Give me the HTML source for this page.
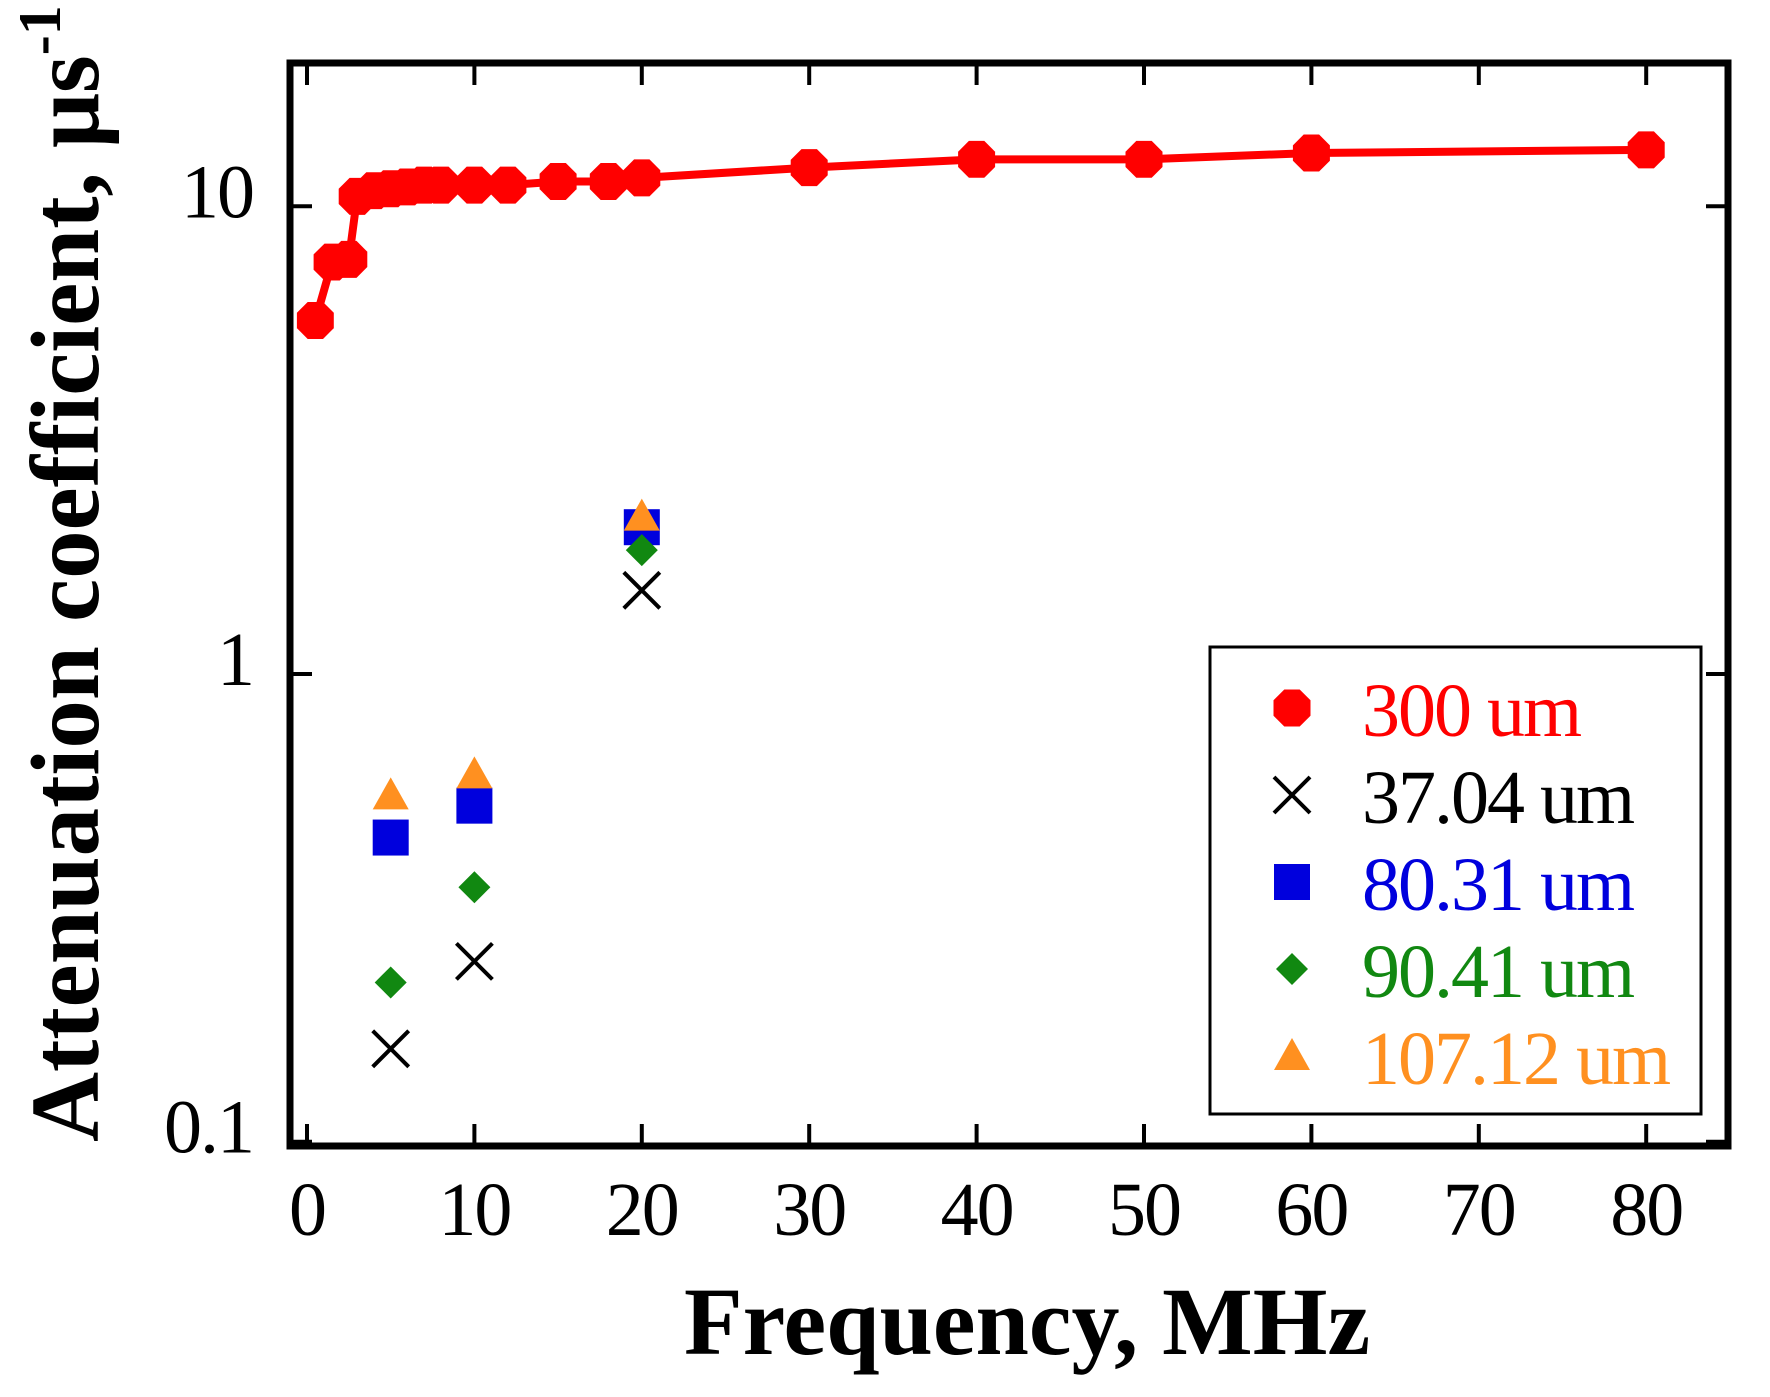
<!DOCTYPE html>
<html><head><meta charset="utf-8"><style>
html,body{margin:0;padding:0;background:#fff;}
svg{display:block;}
text{font-family:"Liberation Serif",serif;}
</style></head><body>
<svg id="chart" width="1770" height="1397" viewBox="0 0 1770 1397" xmlns="http://www.w3.org/2000/svg">
<g id="marks"></g>
<rect x="290" y="63" width="1438" height="1083" fill="none" stroke="#000" stroke-width="7"/>
<g id="ticks"></g>
<text x="1027" y="1354" font-size="96" font-weight="bold" text-anchor="middle">Frequency, MHz</text>
<text transform="translate(98,1142) rotate(-90)" font-size="97" font-weight="bold">Attenuation coefficient, μs<tspan font-size="60" dy="-38">-1</tspan></text>
<g>
<rect x="1210" y="647" width="491" height="467" fill="#fff" stroke="#000" stroke-width="3"/>
<g id="legend-entries"></g>
</g>
</svg>
<script>
const redX = [0.5,1.5,2.5,3,4,5,6,7,8,10,12,15,18,20,30,40,50,60,80];
const redY = [5.7,7.6,7.7,10.5,10.8,10.9,11,11.1,11.1,11.1,11.1,11.3,11.3,11.5,12.1,12.6,12.6,13.0,13.2];
const sampleX = [5,10,20];
const blackY = [0.158,0.243,1.51];
const blueY = [0.447,0.523,2.06];
const greenY = [0.219,0.35,1.84];
const orangeY = [0.55,0.61,2.17];
const xTicks = [0,10,20,30,40,50,60,70,80];
const yTicks = [0.1,1,10];
const yTickLabels = ["0.1","1","10"];
const legendLabels = ["300 um","37.04 um","80.31 um","90.41 um","107.12 um"];

const NS = "http://www.w3.org/2000/svg";
function xs(v){ return 307 + v*16.74; }
function ys(v){ return 674 - Math.log10(v)*467.7; }
function mk(tag, attrs, parent){
  const e = document.createElementNS(NS, tag);
  for (const k in attrs) e.setAttribute(k, attrs[k]);
  parent.appendChild(e); return e;
}
function octagon(cx, cy, r){
  const p=[]; for(let i=0;i<8;i++){const a=Math.PI/8+i*Math.PI/4; p.push((cx+r*Math.cos(a)).toFixed(1)+","+(cy+r*Math.sin(a)).toFixed(1));}
  return p.join(" ");
}
function drawMarker(type, cx, cy, parent){
  let e;
  if (type==="circle") { e = mk("polygon",{points:octagon(cx,cy,20),fill:"#ff0000"},parent); }
  else if (type==="x") { e = mk("path",{d:`M${cx-18},${cy-18}L${cx+18},${cy+18}M${cx-18},${cy+18}L${cx+18},${cy-18}`,stroke:"#000","stroke-width":4,fill:"none"},parent); }
  else if (type==="square") { e = mk("rect",{x:cx-18,y:cy-18,width:36,height:36,fill:"#0000dd"},parent); }
  else if (type==="diamond") { e = mk("polygon",{points:`${cx},${cy-16} ${cx+16},${cy} ${cx},${cy+16} ${cx-16},${cy}`,fill:"#118811"},parent); }
  else { e = mk("polygon",{points:`${cx},${cy-18} ${cx+18},${cy+14} ${cx-18},${cy+14}`,fill:"#ff9020"},parent); }
  return e;
}
const marks = document.getElementById("marks");
const line = mk("polyline",{points:redX.map((x,i)=>xs(x)+","+ys(redY[i])).join(" "),fill:"none",stroke:"#ff0000","stroke-width":8,"stroke-linejoin":"round"},marks);


redX.forEach((x,i)=>{
  const e = drawMarker("circle", xs(x), ys(redY[i]), marks);
  
  
});
const series = [["x",blackY,"point-37um"],["square",blueY,"point-80um"],["diamond",greenY,"point-90um"],["triangle",orangeY,"point-107um"]];
series.forEach(s=>{
  sampleX.forEach((x,i)=>{
    const e = drawMarker(s[0], xs(x), ys(s[1][i]), marks);
    
    
  });
});
const ticks = document.getElementById("ticks");
xTicks.forEach(t=>{
  const x = xs(t);
  const a = mk("line",{x1:x,y1:1146,x2:x,y2:1124,stroke:"#000","stroke-width":4},ticks);
  
  
  const b = mk("line",{x1:x,y1:63,x2:x,y2:85,stroke:"#000","stroke-width":4},ticks);
  
  
  const l = mk("text",{x:x,y:1235,"font-size":76,"text-anchor":"middle","letter-spacing":-2},ticks);
  l.textContent = String(t);
  
  
});
yTicks.forEach((t,i)=>{
  const y = ys(t);
  const a = mk("line",{x1:290,y1:y,x2:312,y2:y,stroke:"#000","stroke-width":4},ticks);
  
  
  const b = mk("line",{x1:1728,y1:y,x2:1706,y2:y,stroke:"#000","stroke-width":4},ticks);
  
  
  const l = mk("text",{x:253,y:y+11,"font-size":76,"text-anchor":"end","letter-spacing":-2},ticks);
  l.textContent = yTickLabels[i];
  
  
});
const leg = document.getElementById("legend-entries");
const legTypes = ["circle","x","square","diamond","triangle"];
const legColors = ["#ff0000","#000000","#0000dd","#118811","#ff9020"];
legendLabels.forEach((lab,i)=>{
  const cy = 708 + i*87;
  const g = mk("g",{},leg);
  
  
  drawMarker(legTypes[i], 1292, cy, g);
  const t = mk("text",{x:1362,y:cy+28,"font-size":76,fill:legColors[i],"letter-spacing":-2},g);
  t.textContent = lab;
});
</script>
</body></html>
